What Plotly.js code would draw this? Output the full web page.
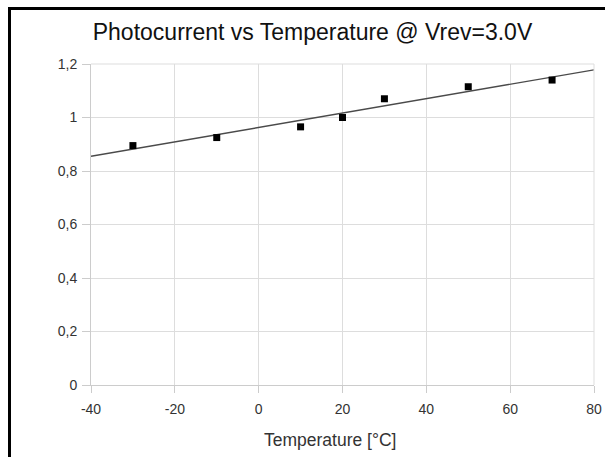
<!DOCTYPE html>
<html>
<head>
<meta charset="utf-8">
<script src="https://cdn.plot.ly/plotly-3.0.1.min.js"></script>
<style>
  html, body { margin: 0; padding: 0; background: #fff; }
  #wrap { position: relative; width: 605px; height: 457px; overflow: hidden; }
  #chart { position: absolute; left: 0; top: 0; width: 605px; height: 457px; }
  #frame { position: absolute; left: 8px; top: 7px; width: 700px; height: 600px;
           border-left: 3px solid #000; border-top: 3px solid #000; pointer-events: none; }
</style>
</head>
<body>
<div id="wrap">
  <div id="chart"></div>
  <div id="frame"></div>
</div>
<script>
// Measured points
const temperature = [-30, -10, 10, 20, 30, 50, 70];
const photocurrent = [0.895, 0.925, 0.965, 1.0, 1.07, 1.115, 1.14];
// Linear trend line (end points)
const trendX = [-40, 80];
const trendY = [0.855, 1.178];

// Tick labels (hyphen-minus as in the original)
const xTickVals = [-40, -20, 0, 20, 40, 60, 80];
const xTickText = ['-40', '-20', '0', '20', '40', '60', '80'];
const yTickVals = [0, 0.2, 0.4, 0.6, 0.8, 1, 1.2];
const yTickText = ['0', '0,2', '0,4', '0,6', '0,8', '1', '1,2'];

const titleText = 'Photocurrent vs Temperature @ Vrev=3.0V';
const xTitle = 'Temperature [°C]';

const traces = [
  {
    x: trendX, y: trendY, type: 'scatter', mode: 'lines',
    line: { color: '#4a4a4a', width: 1.4 }, hoverinfo: 'skip', showlegend: false
  },
  {
    x: temperature, y: photocurrent, type: 'scatter', mode: 'markers',
    marker: { symbol: 'square', size: 7, color: '#000000' }, showlegend: false
  }
];

const FONT = 'Liberation Sans, Arial, sans-serif';

const layout = {
  width: 605, height: 457,
  margin: { l: 91, r: 11, t: 64, b: 72 },
  paper_bgcolor: '#ffffff', plot_bgcolor: '#ffffff',
  separators: ',.',
  font: { family: FONT, color: '#333333', size: 14 },
  title: {
    text: titleText,
    font: { family: FONT, size: 23, color: '#111111' },
    x: 0.5165, xanchor: 'center', xref: 'container',
    y: 0.93, yref: 'container', yanchor: 'middle'
  },
  xaxis: {
    range: [-40, 80], tickmode: 'array', tickvals: xTickVals, ticktext: xTickText,
    showgrid: true, gridcolor: '#dddddd', gridwidth: 1,
    zeroline: false, showline: true, linecolor: '#cccccc', linewidth: 1,
    ticks: 'outside', ticklen: 7, tickcolor: '#cccccc', ticklabelstandoff: 4,
    tickfont: { family: FONT, size: 14, color: '#333333' },
    fixedrange: true
  },
  yaxis: {
    range: [0, 1.2], tickmode: 'array', tickvals: yTickVals, ticktext: yTickText,
    showgrid: true, gridcolor: '#dddddd', gridwidth: 1,
    zeroline: false, showline: true, linecolor: '#cccccc', linewidth: 1,
    ticks: 'outside', ticklen: 8, tickcolor: '#cccccc', ticklabelstandoff: 2,
    tickfont: { family: FONT, size: 14, color: '#333333' },
    fixedrange: true
  },
  annotations: [
    { text: xTitle, xref: 'paper', yref: 'paper', x: 0.475, y: -0.171,
      xanchor: 'center', yanchor: 'middle', showarrow: false,
      font: { family: FONT, size: 17.5, color: '#333333' } }
  ],
  shapes: [
    { type: 'line', xref: 'paper', yref: 'paper', x0: 1, x1: 1, y0: 0, y1: 1,
      line: { color: '#dddddd', width: 1 } },
    { type: 'line', xref: 'paper', yref: 'paper', x0: 0, x1: 1, y0: 1, y1: 1,
      line: { color: '#dddddd', width: 1 } }
  ]
};

Plotly.newPlot('chart', traces, layout, { displayModeBar: false, staticPlot: true });
</script>
</body>
</html>
